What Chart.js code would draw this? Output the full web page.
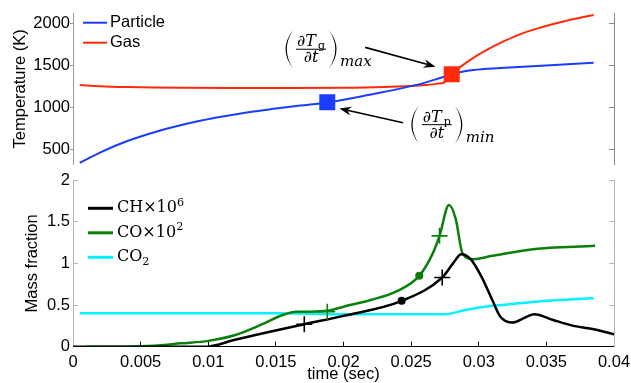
<!DOCTYPE html>
<html>
<head>
<meta charset="utf-8">
<script src="https://cdn.jsdelivr.net/npm/chart.js@4.4.0/dist/chart.umd.min.js"></script>
<style>
html, body { margin: 0; padding: 0; background: #fff; }
#wrap { position: relative; width: 631px; height: 383px; overflow: hidden; }
#wrap canvas { position: absolute; left: 0; }
#topChart { top: 0; }
#botChart { top: 166px; }
</style>
</head>
<body>
<div id="wrap">
  <canvas id="topChart" width="631" height="176" style="width:631px;height:176px"></canvas>
  <canvas id="botChart" width="631" height="217" style="width:631px;height:217px"></canvas>
</div>
<script>
// ---- top panel: temperatures (K) ----
const partTime = [0.0005, 0.002, 0.0035, 0.0057, 0.0075, 0.0094, 0.0113, 0.0131, 0.015, 0.0168, 0.0188, 0.0217, 0.0254, 0.0274, 0.0286, 0.0296, 0.0316, 0.0353, 0.0385];
const partTemp = [343, 464, 569, 690, 770, 841, 898, 946, 986, 1022, 1059, 1143, 1267, 1361, 1418, 1444, 1467, 1501, 1531];
const gasTime = [0.0005, 0.002, 0.004, 0.006, 0.008, 0.012, 0.016, 0.020, 0.023, 0.025, 0.026, 0.027, 0.0275, 0.028, 0.0286, 0.0296, 0.0306, 0.0316, 0.0328, 0.034, 0.0353, 0.0365, 0.0385];
const gasTemp = [1265, 1252, 1242, 1236, 1232, 1229, 1229, 1232, 1242, 1255, 1265, 1282, 1300, 1392, 1475, 1588, 1682, 1765, 1852, 1920, 1981, 2029, 2097];
const tempTicks = [500, 1000, 1500, 2000];

// squares: max dTg/dt and min dTp/dt
const gasMaxT = [0.028], gasMaxV = [1392];
const partMinT = [0.0188], partMinV = [1060];

// ---- bottom panel: mass fractions ----
const chTime = [0, 0.0099, 0.0119, 0.0143, 0.0171, 0.020, 0.0243, 0.0273, 0.0281, 0.0287, 0.0294, 0.0302, 0.031, 0.0316, 0.0325, 0.0333, 0.0341, 0.0355, 0.037, 0.0385, 0.04];
const chFrac = [0, 0, 0.08, 0.17, 0.27, 0.37, 0.55, 0.83, 1.0, 1.11, 1.05, 0.84, 0.56, 0.36, 0.29, 0.34, 0.39, 0.32, 0.25, 0.21, 0.15];
const coTime = [0.001, 0.004, 0.006, 0.008, 0.010, 0.012, 0.014, 0.0155, 0.0165, 0.0175, 0.0188, 0.020, 0.022, 0.024, 0.0256, 0.0266, 0.0271, 0.0278, 0.0283, 0.0288, 0.0296, 0.031, 0.034, 0.0386];
const coFrac = [0, 0, 0.01, 0.04, 0.07, 0.14, 0.27, 0.38, 0.42, 0.42, 0.43, 0.48, 0.56, 0.67, 0.85, 1.12, 1.33, 1.70, 1.53, 1.12, 1.05, 1.09, 1.17, 1.21];
const co2Time = [0.0005, 0.005, 0.01, 0.015, 0.02, 0.025, 0.0275, 0.029, 0.031, 0.033, 0.035, 0.037, 0.0385];
const co2Frac = [0.40, 0.40, 0.40, 0.40, 0.39, 0.39, 0.39, 0.44, 0.49, 0.52, 0.55, 0.57, 0.58];
const timeTicks = [0, 0.005, 0.01, 0.015, 0.02, 0.025, 0.03, 0.035, 0.04];
const fracTicks = [0, 0.5, 1, 1.5, 2];

// marker points on the species curves
const chPlusT = [0.0171, 0.0273], chPlusV = [0.27, 0.83];
const chDotT = [0.0243], chDotV = [0.55];
const coPlusT = [0.0188, 0.0271], coPlusV = [0.42, 1.33];
const coDotT = [0.0256], coDotV = [0.85];

const BLUE = "#1a3cff", RED = "#ff2a0a", GREEN = "#0a800a", BLACK = "#000000", CYAN = "#00f4ff";
const SANS = "Liberation Sans", SERIF = "DejaVu Serif";

const pts = (xs, ys) => xs.map((x, i) => ({ x, y: ys[i] }));

function lineSet(label, xs, ys, color, width, order) {
    return {
        label, data: pts(xs, ys), borderColor: color, backgroundColor: color,
        borderWidth: width, pointRadius: 0, cubicInterpolationMode: "monotone",
        order, inLegend: true
    };
}

function markSet(xs, ys, color, style, radius, order = 0) {
    return {
        label: "", data: pts(xs, ys), showLine: false, pointStyle: style,
        pointRadius: radius, borderColor: color, backgroundColor: color,
        borderWidth: style === "cross" ? 1.6 : 0, order
    };
}

// rich text: "^x" superscript, "_x" subscript
function drawRich(ctx, text, x, y, size, family) {
    let i = 0;
    while (i < text.length) {
        const c = text[i];
        if ((c === "^" || c === "_") && i + 1 < text.length) {
            const s = text[i + 1];
            ctx.font = `${size * 0.7}px "${family}"`;
            ctx.fillText(s, x, c === "^" ? y - size * 0.35 : y + size * 0.3);
            x += ctx.measureText(s).width;
            i += 2;
        } else {
            ctx.font = `${size}px "${family}"`;
            ctx.fillText(c, x, y);
            x += ctx.measureText(c).width;
            i += 1;
        }
    }
}

const insideLegend = {
    id: "insideLegend",
    afterDraw(chart, args, o) {
        const ctx = chart.ctx;
        ctx.save();
        ctx.textBaseline = "middle";
        ctx.textAlign = "left";
        chart.data.datasets.filter(d => d.inLegend).forEach((d, i) => {
            const y = o.y0 + i * o.dy;
            ctx.strokeStyle = d.borderColor;
            ctx.lineWidth = o.lineWidth;
            ctx.beginPath();
            ctx.moveTo(o.x0, y);
            ctx.lineTo(o.x1, y);
            ctx.stroke();
            ctx.fillStyle = "#000";
            drawRich(ctx, o.labels ? o.labels[i] : d.label, o.tx, y, o.size, o.family);
        });
        ctx.restore();
    }
};

function drawParen(ctx, x, top, bot, dir) {
    // dir -1 = "(", +1 = ")"
    const mid = (top + bot) / 2;
    ctx.beginPath();
    ctx.moveTo(x, top);
    ctx.quadraticCurveTo(x + dir * 15, mid, x, bot);
    ctx.quadraticCurveTo(x + dir * 12.5, mid, x, top);
    ctx.fill();
}

const mathNotes = {
    id: "mathNotes",
    afterDraw(chart, args, o) {
        const ctx = chart.ctx, xs = chart.scales.x, ys = chart.scales.y;
        ctx.save();
        ctx.fillStyle = "#000";
        ctx.strokeStyle = "#000";
        ctx.textAlign = "left";
        ctx.textBaseline = "alphabetic";
        const it = `italic 16px "${SERIF}"`, up = `11px "${SERIF}"`, sm = `italic 15px "${SERIF}"`;
        o.notes.forEach(n => {
            const cx = xs.getPixelForValue(n.t), by = ys.getPixelForValue(n.v);
            ctx.font = it; const wT = ctx.measureText("\u2202T").width;
            ctx.font = up; const wS = ctx.measureText(n.sub).width;
            const wNum = wT + wS + 2;
            ctx.font = it; const wDen = ctx.measureText("\u2202t").width;
            const w = Math.max(wNum, wDen);
            ctx.font = it; ctx.fillText("\u2202T", cx - wNum / 2, by - 3);
            ctx.font = up; ctx.fillText(n.sub, cx - wNum / 2 + wT + 2, by);
            ctx.font = it; ctx.fillText("\u2202t", cx - wDen / 2, by + 13);
            ctx.fillRect(cx - w / 2 - 1, by - 0.5, w + 2, 1);
            const l = cx - w / 2 - 4, r = cx + w / 2 + 4;
            drawParen(ctx, l, by - 19, by + 19, -1);
            drawParen(ctx, r, by - 19, by + 19, 1);
            ctx.font = sm; ctx.fillText(n.tail, r + 11, by + 17);
        });
        o.arrows.forEach(a => {
            const x1 = xs.getPixelForValue(a.from[0]), y1 = ys.getPixelForValue(a.from[1]);
            const x2 = xs.getPixelForValue(a.to[0]), y2 = ys.getPixelForValue(a.to[1]);
            const ang = Math.atan2(y2 - y1, x2 - x1), c = Math.cos(ang), s = Math.sin(ang);
            ctx.lineWidth = 1.6;
            ctx.beginPath();
            ctx.moveTo(x1, y1);
            ctx.lineTo(x2 - 8 * c, y2 - 8 * s);
            ctx.stroke();
            ctx.beginPath();
            ctx.moveTo(x2, y2);
            ctx.lineTo(x2 - 12 * c + 4.5 * s, y2 - 12 * s - 4.5 * c);
            ctx.lineTo(x2 - 8 * c, y2 - 8 * s);
            ctx.lineTo(x2 - 12 * c - 4.5 * s, y2 - 12 * s + 4.5 * c);
            ctx.closePath();
            ctx.fill();
        });
        ctx.restore();
    }
};

const tickFont = { family: SANS, size: 16.5 };
const fixTicks = list => s => { s.ticks = list.map(v => ({ value: v })); };

function leftAxis(min, max, list, title, color, tickLen, pad, titlePad) {
    return {
        min, max, afterBuildTicks: fixTicks(list),
        afterFit: s => { s.width = 73; s.paddingTop = 0; s.paddingBottom = 0; },
        border: { color, width: 1 },
        grid: { drawOnChartArea: false, tickLength: tickLen, color },
        ticks: { padding: pad, color: "#000", font: tickFont, callback: v => String(v) },
        title: { display: true, text: title, color: "#000", font: { family: SANS, size: 16.5 }, padding: { top: titlePad } }
    };
}

function rightAxis(min, max, list, color) {
    return {
        position: "right", min, max, afterBuildTicks: fixTicks(list),
        afterFit: s => { s.width = 0; s.paddingTop = 0; s.paddingBottom = 0; },
        border: { color, width: 1 },
        grid: { drawOnChartArea: false, tickLength: -5, color },
        ticks: { display: false }
    };
}

new Chart(document.getElementById("topChart"), {
    type: "line",
    data: {
        datasets: [
            lineSet("Particle", partTime, partTemp, BLUE, 2, 2),
            lineSet("Gas", gasTime, gasTemp, RED, 2, 3),
            markSet(gasMaxT, gasMaxV, RED, "rect", 11.3),
            markSet(partMinT, partMinV, BLUE, "rect", 11.3)
        ]
    },
    options: {
        responsive: false,
        animation: false,
        layout: { padding: { top: 13, right: 17, bottom: 4, left: 0 } },
        plugins: {
            legend: { display: false },
            tooltip: { enabled: false },
            insideLegend: { x0: 83, x1: 107, tx: 110, y0: 22.7, dy: 20, lineWidth: 2, size: 16.5, family: SANS },
            mathNotes: {
                notes: [
                    { t: 0.0176, v: 1690, sub: "g", tail: "max" },
                    { t: 0.0269, v: 795, sub: "p", tail: "min" }
                ],
                arrows: [
                    { from: [0.0216, 1712], to: [0.0268, 1483] },
                    { from: [0.0244, 818], to: [0.0197, 988] }
                ]
            }
        },
        scales: {
            x: { type: "linear", min: 0, max: 0.04, display: false },
            y: leftAxis(320, 2120, tempTicks, "Temperature (K)", "#9a9a9a", 3, 0, 11),
            y2: rightAxis(320, 2120, tempTicks, "#888888")
        }
    },
    plugins: [insideLegend, mathNotes]
});

new Chart(document.getElementById("botChart"), {
    type: "line",
    data: {
        datasets: [
            lineSet("CH", chTime, chFrac, BLACK, 2.5, 1),
            lineSet("CO", coTime, coFrac, GREEN, 2.5, 2),
            lineSet("CO2", co2Time, co2Frac, CYAN, 2.5, 3),
            markSet(chPlusT, chPlusV, BLACK, "cross", 8),
            markSet(chDotT, chDotV, BLACK, "circle", 4),
            markSet(coPlusT, coPlusV, GREEN, "cross", 8),
            markSet(coDotT, coDotV, GREEN, "circle", 4)
        ]
    },
    options: {
        responsive: false,
        animation: false,
        layout: { padding: { top: 14, right: 17, bottom: 0, left: 0 } },
        plugins: {
            legend: { display: false },
            tooltip: { enabled: false },
            insideLegend: {
                x0: 88, x1: 113, tx: 117, y0: 42.3, dy: 24.5, lineWidth: 3, size: 16, family: SERIF,
                labels: ["CH\u00d710^6", "CO\u00d710^2", "CO_2"]
            }
        },
        scales: {
            x: {
                type: "linear", min: 0, max: 0.04, afterBuildTicks: fixTicks(timeTicks),
                afterFit: s => { s.height = 36.3; s.paddingLeft = 0; s.paddingRight = 0; },
                border: { color: "#000", width: 1 },
                grid: { drawOnChartArea: false, tickLength: -5, color: "#000" },
                ticks: { padding: 11, color: "#000", font: tickFont, maxRotation: 0, callback: v => String(+v.toFixed(3)) },
                title: { display: true, text: "time (sec)", color: "#000", font: { family: SANS, size: 16.5, lineHeight: 1 }, padding: { top: 0, bottom: 0 } }
            },
            y: leftAxis(0, 2, fracTicks, "Mass fraction", "#b4b4b4", -5, 8, 23),
            y2: rightAxis(0, 2, fracTicks, "#b4b4b4")
        }
    },
    plugins: [insideLegend]
});
</script>
</body>
</html>
